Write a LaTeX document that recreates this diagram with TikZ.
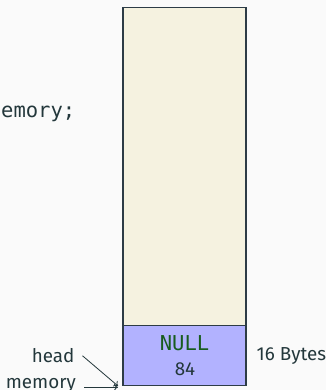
\documentclass[tikz,border=0pt]{standalone}
\usepackage{fontspec}
\setmainfont{Fira Sans}
\newfontfamily\codefont{DejaVu Sans Mono}
\usetikzlibrary{arrows.meta}
\definecolor{bgc}{RGB}{250,250,250}
\definecolor{txt}{RGB}{35,55,59}
\definecolor{cream}{RGB}{245,242,224}
\definecolor{lav}{RGB}{178,178,255}
\definecolor{nullgreen}{RGB}{24,92,30}
\definecolor{edge}{RGB}{45,60,70}
\begin{document}
\begin{tikzpicture}[x=1pt,y=-1pt,
  cellbox/.style={draw=edge, line width=1.4pt, inner sep=0pt},
  lbl/.style={text=txt, font=\fontsize{18.8}{20}\selectfont, inner sep=3pt},
  code/.style={font=\codefont\fontsize{20.5}{22}\selectfont, inner sep=0pt},
  arr/.style={-{To[length=4pt,width=7pt]}, draw=txt, line width=0.8pt}]
\fill[bgc] (0,0) rectangle (326,390);
\useasboundingbox (0,0) rectangle (326,390);
\node[cellbox, fill=cream, minimum width=123pt, minimum height=318.2pt] (heap) at (184.5,166.4) {};
\node[cellbox, fill=lav, minimum width=123pt, minimum height=60.2pt] (cell) at (184.5,355.6) {};
\node[code, text=nullgreen, anchor=base] (null) at (184.5,350) {NULL};
\node[lbl, anchor=base] (val) at (185,375) {84};
\node[lbl, anchor=base west] (bytes) at (253.5,360) {16 Bytes};
\node[lbl, anchor=base east] (head) at (77.5,362.7) {head};
\node[lbl, anchor=base east] (mem) at (79,388) {memory};
\node[code, text=txt, anchor=base west] (code) at (1,118) {emory;};
\coordinate (memtip) at (118,387.3);
\coordinate (headtip) at (118,386);
\draw[arr] ([xshift=5pt]head.east) -- (headtip);
\draw[arr] ([xshift=5pt]mem.east |- memtip) -- (memtip);
\end{tikzpicture}
\end{document}
